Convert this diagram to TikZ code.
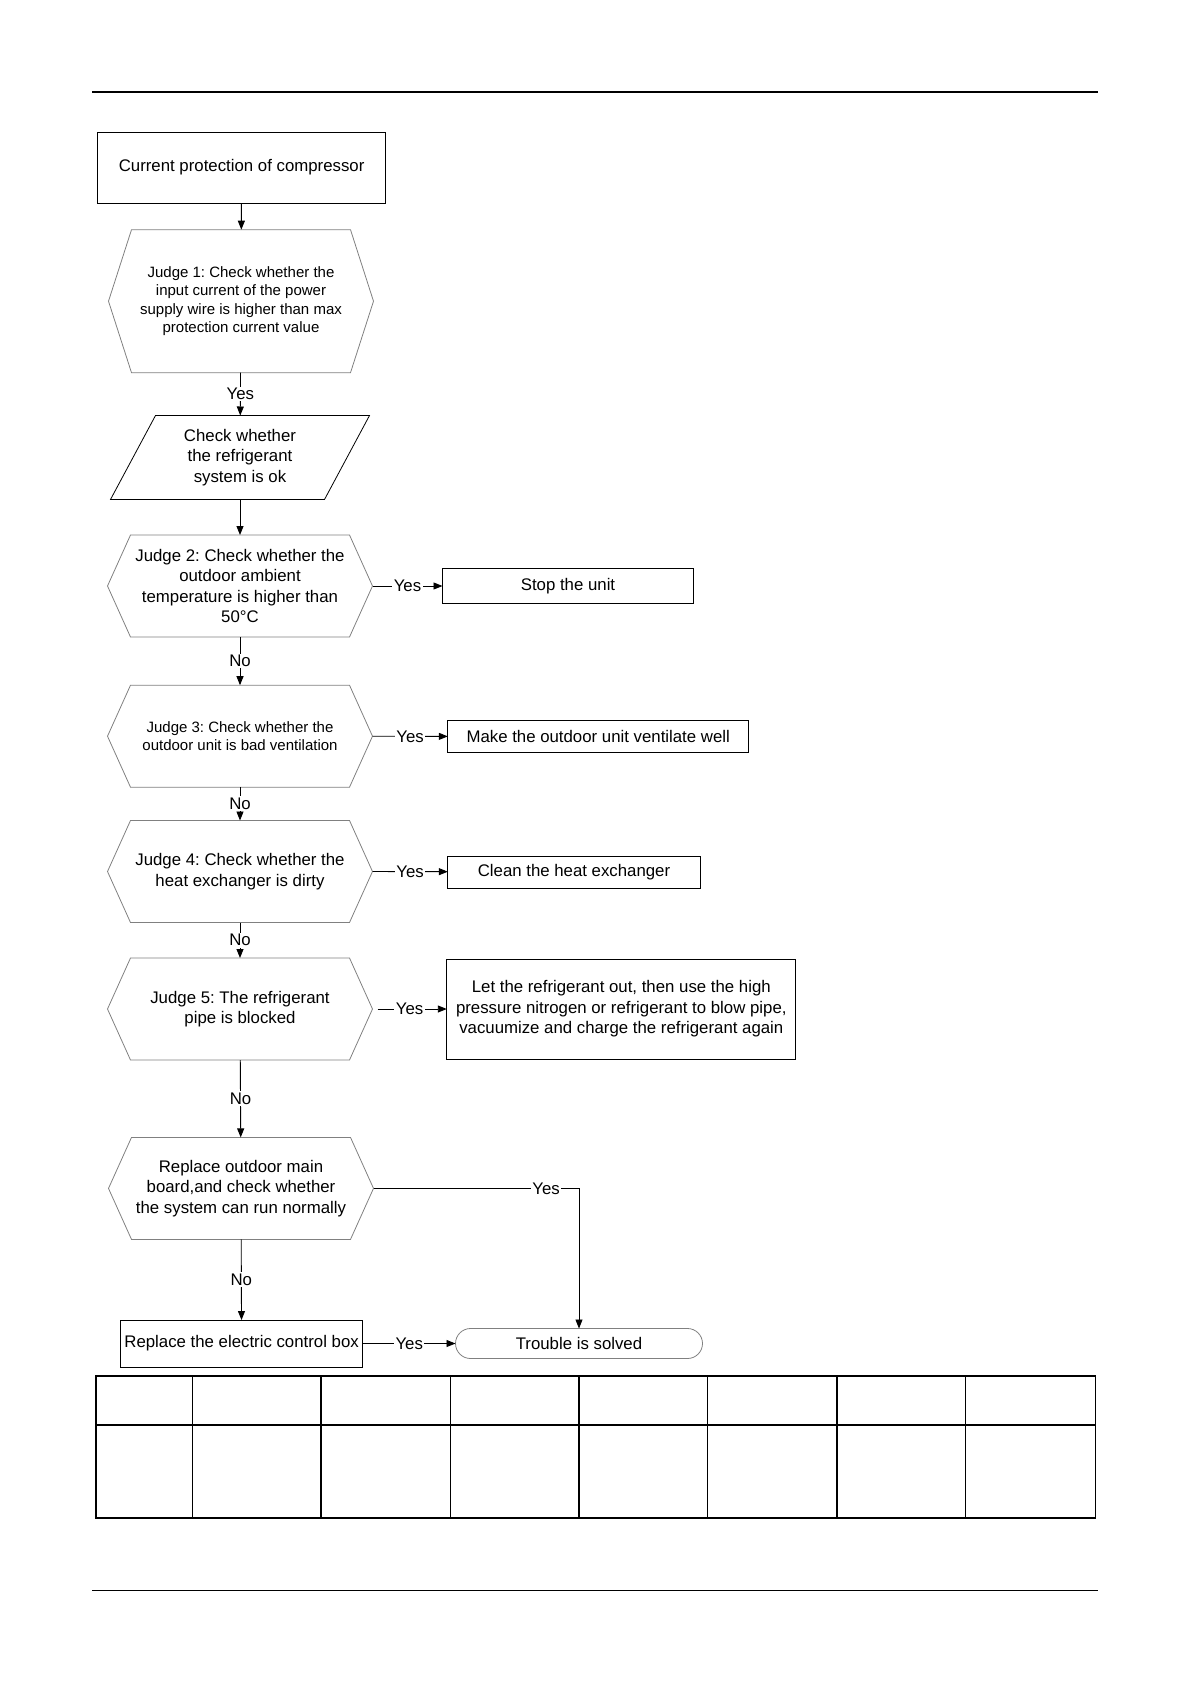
\documentclass[tikz,border=0pt]{standalone}
\usepackage{fontspec}
\setmainfont{Liberation Sans}
\usetikzlibrary{arrows.meta,calc}
\frenchspacing

\begin{document}
\begin{tikzpicture}[
    x=1pt,y=-1pt,
    font=\fontsize{16.8}{20.4}\selectfont,
    box/.style={draw,line width=1pt,align=center,inner sep=2pt,outer sep=0pt},
    judge/.style={align=center,minimum width=265pt,minimum height=102pt,inner sep=0pt,outer sep=0pt},
    judgeline/.style={draw=black!50,line width=0.8pt},
    smalltext/.style={font=\fontsize{15}{18.6}\selectfont},
    arrow/.style={-{Triangle[length=9pt,width=7pt]},line width=0.9pt},
    lbl/.style={fill=white,inner sep=1.5pt}
]
\useasboundingbox (0,0) rectangle (1190,1684);
\draw[line width=2pt] (92.4,92.4) -- (1097.6,92.4);
\draw[line width=1.6pt] (92.4,1590.6) -- (1097.6,1590.6);

\node[box,minimum width=288pt,minimum height=71pt] (start) at (241.6,167.5) {Current protection of compressor};
\node[judge,smalltext,minimum height=143pt] (j1) at (241,301.2) {Judge 1: Check whether the\\input current of the power\\supply wire is higher than max\\protection current value};
\node[align=center,minimum width=259pt,minimum height=84pt,inner sep=0pt,outer sep=0pt] (check) at (240,457.5) {Check whether\\the refrigerant\\system is ok};
\node[judge] (j2) at (240,586) {Judge 2: Check whether the\\outdoor ambient\\temperature is higher than\\50°C};
\node[box,minimum width=251pt,minimum height=35.5pt] (stop) at (568,586) {Stop the unit};
\node[judge,smalltext] (j3) at (240,736.2) {Judge 3: Check whether the\\outdoor unit is bad ventilation};
\node[box,minimum width=300.7pt,minimum height=32pt] (vent) at (598.2,736.8) {Make the outdoor unit ventilate well};
\node[judge] (j4) at (240,871.5) {Judge 4: Check whether the\\heat exchanger is dirty};
\node[box,minimum width=252.3pt,minimum height=32pt] (clean) at (574,872) {Clean the heat exchanger};
\node[judge] (j5) at (240,1009) {Judge 5: The refrigerant\\pipe is blocked};
\node[box,minimum width=349pt,minimum height=100pt] (blow) at (621.3,1009) {Let the refrigerant out, then use the high\\pressure nitrogen or refrigerant to blow pipe,\\vacuumize and charge the refrigerant again};
\node[judge] (j6) at (241,1188.4) {Replace outdoor main\\board,and check whether\\the system can run normally};
\node[box,minimum width=242.7pt,minimum height=47pt] (ctrl) at (241.6,1343.5) {Replace the electric control box};
\node[draw=black!50,line width=0.8pt,rounded corners=15pt,minimum width=247pt,minimum height=30pt,outer sep=0pt] (solved) at (579,1343.5) {Trouble is solved};

% judge outlines
\foreach \n in {j1,j2,j3,j4,j5,j6}
  \draw[judgeline] (\n.west) -- ($(\n.north west)+(23,0)$) -- ($(\n.north east)+(-23,0)$) -- (\n.east)
    -- ($(\n.south east)+(-23,0)$) -- ($(\n.south west)+(23,0)$) -- cycle;
\draw[line width=0.8pt] ($(check.north west)+(45,0)$) -- (check.north east) -- ($(check.south east)+(-45,0)$) -- (check.south west) -- cycle;

\draw[arrow] (start) -- (j1);
\draw[arrow] (j1) -- node[lbl]{Yes} (check);
\draw[arrow] (check) -- (j2);
\draw[arrow] (j2) -- node[lbl]{Yes} (stop);
\draw[arrow] (j2) -- node[lbl]{No} (j3);
\draw[arrow] (j3.east) -- node[lbl]{Yes} (vent);
\draw[arrow] (j3) -- node[lbl]{No} (j4);
\draw[arrow] (j4.east) -- node[lbl]{Yes} (clean);
\draw[arrow] (j4) -- node[lbl]{No} (j5);
\draw[arrow,shorten <=5pt] (j5.east) -- node[lbl]{Yes} (blow);
\draw[arrow] (j5) -- node[lbl]{No} (j6);
\draw[arrow] (j6.east) -| node[lbl,pos=0.42]{Yes} (solved.north);
\draw[arrow] (j6) -- node[lbl]{No} (ctrl);
\draw[arrow] (ctrl) -- node[lbl]{Yes} (solved);

% table below the chart
\draw[line width=1.8pt] (95.6,1375.8) rectangle (1095.5,1517.6);
\draw[line width=1.8pt] (95.6,1425.2) -- (1095.5,1425.2);
\foreach \x/\w in {192.2/0.8,321.1/1.8,450/0.8,578.9/1.8,707.8/0.8,836.6/1.8,965.5/0.8}
  \draw[line width=\w pt] (\x,1375.8) -- (\x,1517.6);
\end{tikzpicture}
\end{document}
